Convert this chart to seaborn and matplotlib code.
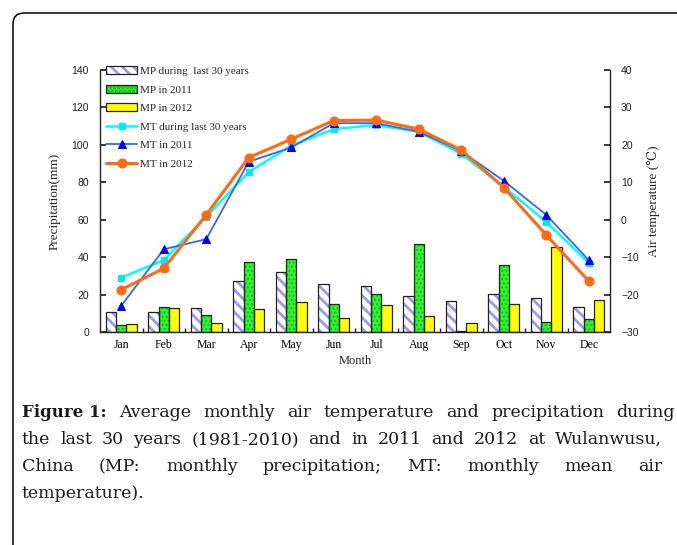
import numpy as np
import pandas as pd
import matplotlib
matplotlib.use("Agg")
import matplotlib.pyplot as plt
import seaborn as sns
from matplotlib.patches import Rectangle, Patch, FancyBboxPatch
import matplotlib.transforms as mtransforms
from matplotlib.ticker import FixedLocator

# ---------------- data ----------------
months = ["Jan", "Feb", "Mar", "Apr", "May", "Jun", "Jul", "Aug", "Sep", "Oct", "Nov", "Dec"]
mp_30yr = [10.5, 10.5, 13.0, 27.3, 32.3, 25.8, 24.6, 19.1, 16.8, 20.1, 18.0, 13.5]
mp_2011 = [3.6, 13.5, 8.9, 37.4, 38.9, 15.2, 20.1, 47.0, 0.3, 35.8, 5.3, 7.0]
mp_2012 = [4.5, 12.7, 5.0, 12.1, 16.2, 7.5, 14.6, 8.4, 4.8, 15.2, 45.3, 16.9]
mt_30yr = [-15.5, -10.8, 0.8, 12.7, 19.8, 24.2, 25.3, 23.5, 17.6, 8.8, -0.6, -11.5]
mt_2011 = [-23.0, -7.9, -5.2, 15.5, 19.3, 25.8, 25.8, 23.5, 18.3, 10.4, 1.3, -10.8]
mt_2012 = [-18.7, -13.0, 1.3, 16.6, 21.5, 26.5, 26.6, 24.2, 18.6, 8.6, -4.1, -16.4]

mp_labels = ["MP during  last 30 years", "MP in 2011", "MP in 2012"]
mt_labels = ["MT during last 30 years", "MT in 2011", "MT in 2012"]
y1_ticks = [0, 20, 40, 60, 80, 100, 120, 140]
y2_ticks = [-30, -20, -10, 0, 10, 20, 30, 40]

caption_lines = [
    [("Figure 1:", True), ("Average", False), ("monthly", False), ("air", False),
     ("temperature", False), ("and", False), ("precipitation", False), ("during", False)],
    [(w, False) for w in "the last 30 years (1981-2010) and in 2011 and 2012 at Wulanwusu,".split()],
    [(w, False) for w in "China (MP: monthly precipitation; MT: monthly mean air".split()],
    [("temperature).", False)],
]

# ---------------- style ----------------
sns.set_theme(style="ticks")
plt.rcParams["font.family"] = ["Liberation Serif", "DejaVu Serif"]
plt.rcParams["hatch.linewidth"] = 2.0
plt.rcParams["axes.edgecolor"] = "#222222"
plt.rcParams["axes.linewidth"] = 1.0

W, H = 677, 545
fig = plt.figure(figsize=(W / 100, H / 100), dpi=100)
fig.patch.set_facecolor("white")

def fx(px):
    return px / W

def fy(py):
    return 1 - py / H

ax = fig.add_axes([fx(100), fy(332), fx(610) - fx(100), fy(70) - fy(332)])
ax.set_facecolor("none")

bar_face = ["#ffffff", "#2cf52c", "#ffff00"]
bar_hatch = ["\\\\\\", "....", None]
hatch_col = ["#9a9af5", "#14b814", "#ffff00"]
hatch_lw = [2.0, 0.9, 1.0]

df_mp = pd.DataFrame({
    "Month": months * 3,
    "MP": mp_30yr + mp_2011 + mp_2012,
    "Series": [mp_labels[0]] * len(months) + [mp_labels[1]] * len(months) + [mp_labels[2]] * len(months),
})
sns.barplot(data=df_mp, x="Month", y="MP", hue="Series", order=months, hue_order=mp_labels,
            palette=bar_face, saturation=1, width=0.72, gap=0, legend=False, ax=ax,
            linewidth=0, errorbar=None)

for i, cont in enumerate(ax.containers):
    for b in cont:
        b.set_facecolor(bar_face[i])
        b.set_edgecolor(hatch_col[i])
        b.set_linewidth(0)
        if bar_hatch[i]:
            b.set_hatch(bar_hatch[i])
            if hasattr(b, "set_hatch_linewidth"):
                b.set_hatch_linewidth(hatch_lw[i])
        ax.add_patch(Rectangle((b.get_x(), b.get_y()), b.get_width(), b.get_height(),
                               fill=False, edgecolor="#222222", linewidth=0.9, zorder=b.get_zorder() + 0.1))

ax.set_xlim(-0.5, len(months) - 0.5)
ax.set_ylim(0, 140)
ax.set_yticks(y1_ticks)
ax.tick_params(axis="y", direction="in", length=4, labelsize=7.5, pad=8, colors="#222222")
for lab in ax.get_yticklabels():
    lab.set_fontfamily("Liberation Sans")
ax.tick_params(axis="x", which="major", length=0, labelsize=8.5, pad=5, labelcolor="black")
ax.xaxis.set_minor_locator(FixedLocator(np.arange(0.5, len(months) - 1, 1)))
ax.tick_params(axis="x", which="minor", direction="in", length=3, color="#222222")
ax.set_xlabel("Month", fontsize=9, labelpad=3)
ax.set_ylabel("Precipitation(mm)", fontsize=9.5, labelpad=8)
ax.spines["top"].set_visible(False)
ax.spines["right"].set_visible(False)

# ---------------- temperature lines ----------------
ax2 = ax.twinx()
pos = np.arange(len(months))
line_specs = [
    (mt_30yr, mt_labels[0], "#00ffff", "s", 5.0, 1.8, "#00e8ff"),
    (mt_2011, mt_labels[1], "#3366ff", "^", 5.5, 1.3, "#0000ee"),
    (mt_2012, mt_labels[2], "#ff6a13", "o", 6.5, 2.2, "#ff6a13"),
]
for vals, lab, col, mk, ms, lw, mcol in line_specs:
    sns.lineplot(x=pos, y=vals, ax=ax2, color=col, marker=mk, markersize=ms, linewidth=lw,
                 markerfacecolor=mcol, markeredgecolor=mcol, label=lab, legend=False)

ax2.set_ylim(-30, 40)
ax2.set_yticks(y2_ticks)
ax2.set_yticklabels([str(t).replace("-", "\u2212") for t in y2_ticks])
ax2.tick_params(axis="y", direction="in", length=4, labelsize=7.5, pad=8, colors="#222222")
for lab in ax2.get_yticklabels():
    lab.set_fontfamily("Liberation Sans")
ax2.set_ylabel("Air temperature (\u2103)", fontsize=9.5, rotation=90, labelpad=6)
for s in ["top", "left", "bottom"]:
    ax2.spines[s].set_visible(False)

# ---------------- legend ----------------
handles = []
for i in range(3):
    p1 = Patch(facecolor=bar_face[i], edgecolor=hatch_col[i], hatch=bar_hatch[i], linewidth=0)
    p2 = Patch(fill=False, edgecolor="#222222", linewidth=0.9)
    handles.append((p1, p2))
handles += list(ax2.lines)
labels = mp_labels + mt_labels
ax2.legend(handles, labels, loc="upper left", bbox_to_anchor=(fx(106), fy(66)),
           bbox_transform=fig.transFigure, frameon=False, prop={"family": "Liberation Serif", "size": 8},
           handlelength=2.8, handleheight=0.75, handletextpad=0.3, labelspacing=0.78,
           borderaxespad=0, borderpad=0)

# ---------------- figure border ----------------
border = FancyBboxPatch((13, -30), 720, H - 13 + 30, boxstyle="round,pad=0,rounding_size=11",
                        transform=mtransforms.IdentityTransform(), fill=False,
                        edgecolor="black", linewidth=1.1)
fig.add_artist(border)

# ---------------- caption ----------------
renderer = fig.canvas.get_renderer()
base_y = [417, 444, 471, 498]
right_edges = [675, 662, 662, None]
for line, yb, xr in zip(caption_lines, base_y, right_edges):
    texts = []
    for word, bold in line:
        t = fig.text(0, fy(yb), word, fontsize=12.5 if not bold else 12,
                     fontweight="bold" if bold else "normal",
                     family=["DejaVu Serif"], va="baseline", ha="left", color="#1a1a1a")
        texts.append(t)
    widths = [t.get_window_extent(renderer).width for t in texts]
    x0 = 22
    if xr is None or len(texts) == 1:
        gap = 5
    else:
        gap = (xr - x0 - sum(widths)) / (len(texts) - 1)
    x = x0
    for t, w in zip(texts, widths):
        t.set_x(fx(x))
        x += w + gap

fig.savefig("out.png", dpi=100)
